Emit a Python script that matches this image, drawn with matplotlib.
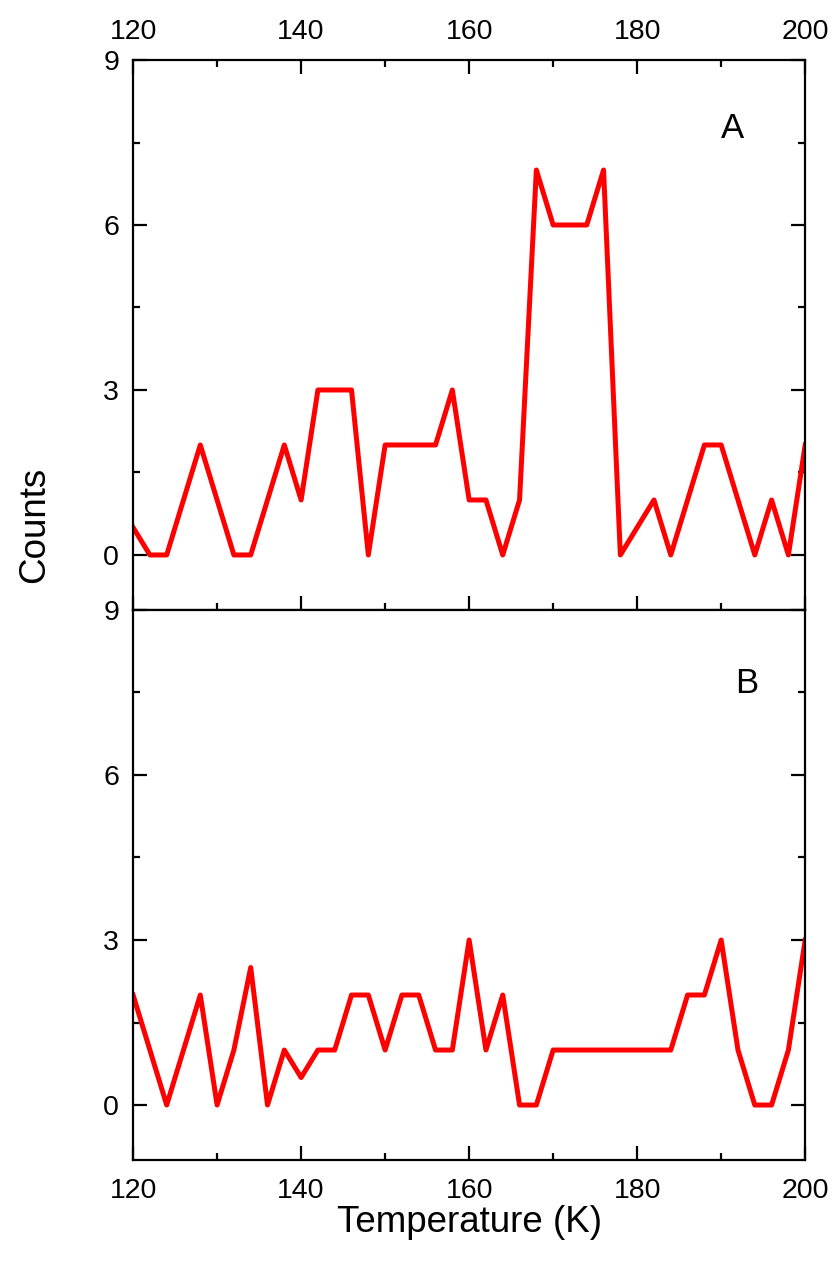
import numpy as np
import matplotlib
matplotlib.use('Agg')
from matplotlib import pyplot as plt
from matplotlib.ticker import MultipleLocator

plt.rcParams['font.family'] = ['Liberation Sans', 'DejaVu Sans']

temp = np.arange(120, 201, 2)

counts_a = [0.5, 0, 0, 1, 2, 1, 0, 0, 1, 2, 1, 3, 3, 3, 0, 2, 2, 2, 2, 3,
            1, 1, 0, 1, 7, 6, 6, 6, 7, 0, 0.5, 1, 0, 1, 2, 2, 1, 0, 1, 0, 2]
counts_b = [2, 1, 0, 1, 2, 0, 1, 2.5, 0, 1, 0.5, 1, 1, 2, 2, 1, 2, 2, 1, 1,
            3, 1, 2, 0, 0, 1, 1, 1, 1, 1, 1, 1, 1, 2, 2, 3, 1, 0, 0, 1, 3]

panel_labels = ['A', 'B']
y_ticks = [0, 3, 6, 9]
x_ticks = [120, 140, 160, 180, 200]

fig = plt.figure(figsize=(8.37, 12.66), dpi=100)
left, right = 0.159, 0.962
ax_a = fig.add_axes([left, 0.5182, right - left, 0.9526 - 0.5182])
ax_b = fig.add_axes([left, 0.0837, right - left, 0.5182 - 0.0837])

for ax, data in [(ax_a, counts_a), (ax_b, counts_b)]:
    ax.plot(temp, data, color='#ff0000', lw=3.6)
    ax.set_xlim(120, 200)
    ax.set_ylim(-1, 9)
    ax.set_xticks(x_ticks)
    ax.set_yticks(y_ticks)
    ax.xaxis.set_minor_locator(MultipleLocator(10))
    ax.yaxis.set_minor_locator(MultipleLocator(1.5))
    for s in ax.spines.values():
        s.set_linewidth(1.6)
    ax.tick_params(which='both', direction='in', width=1.6, labelsize=20.5,
                   left=True, right=True, labelright=False)
    ax.tick_params(axis='y', pad=10)
    ax.tick_params(axis='x', pad=13)
    ax.tick_params(which='major', length=10)
    ax.tick_params(which='minor', length=5)

# panel A: ticks top and bottom, labels on top
ax_a.tick_params(which='both', top=True, bottom=True, labeltop=True, labelbottom=False)
ax_a.tick_params(axis='x', pad=11)
ax_a.text(191.4, 7.75, panel_labels[0], fontsize=25, ha='center', va='center')

# panel B: no ticks on top
ax_b.tick_params(which='both', top=False, bottom=True, labelbottom=True)
ax_b.text(193.0, 7.67, panel_labels[1], fontsize=25, ha='center', va='center')
ax_b.set_xlabel('Temperature (K)', fontsize=26.5, labelpad=1)

fig.text(0.041, 1 - 525 / 1266, 'Counts', rotation=90, fontsize=26.5,
         ha='center', va='center')

fig.savefig('out.png', dpi=100)
